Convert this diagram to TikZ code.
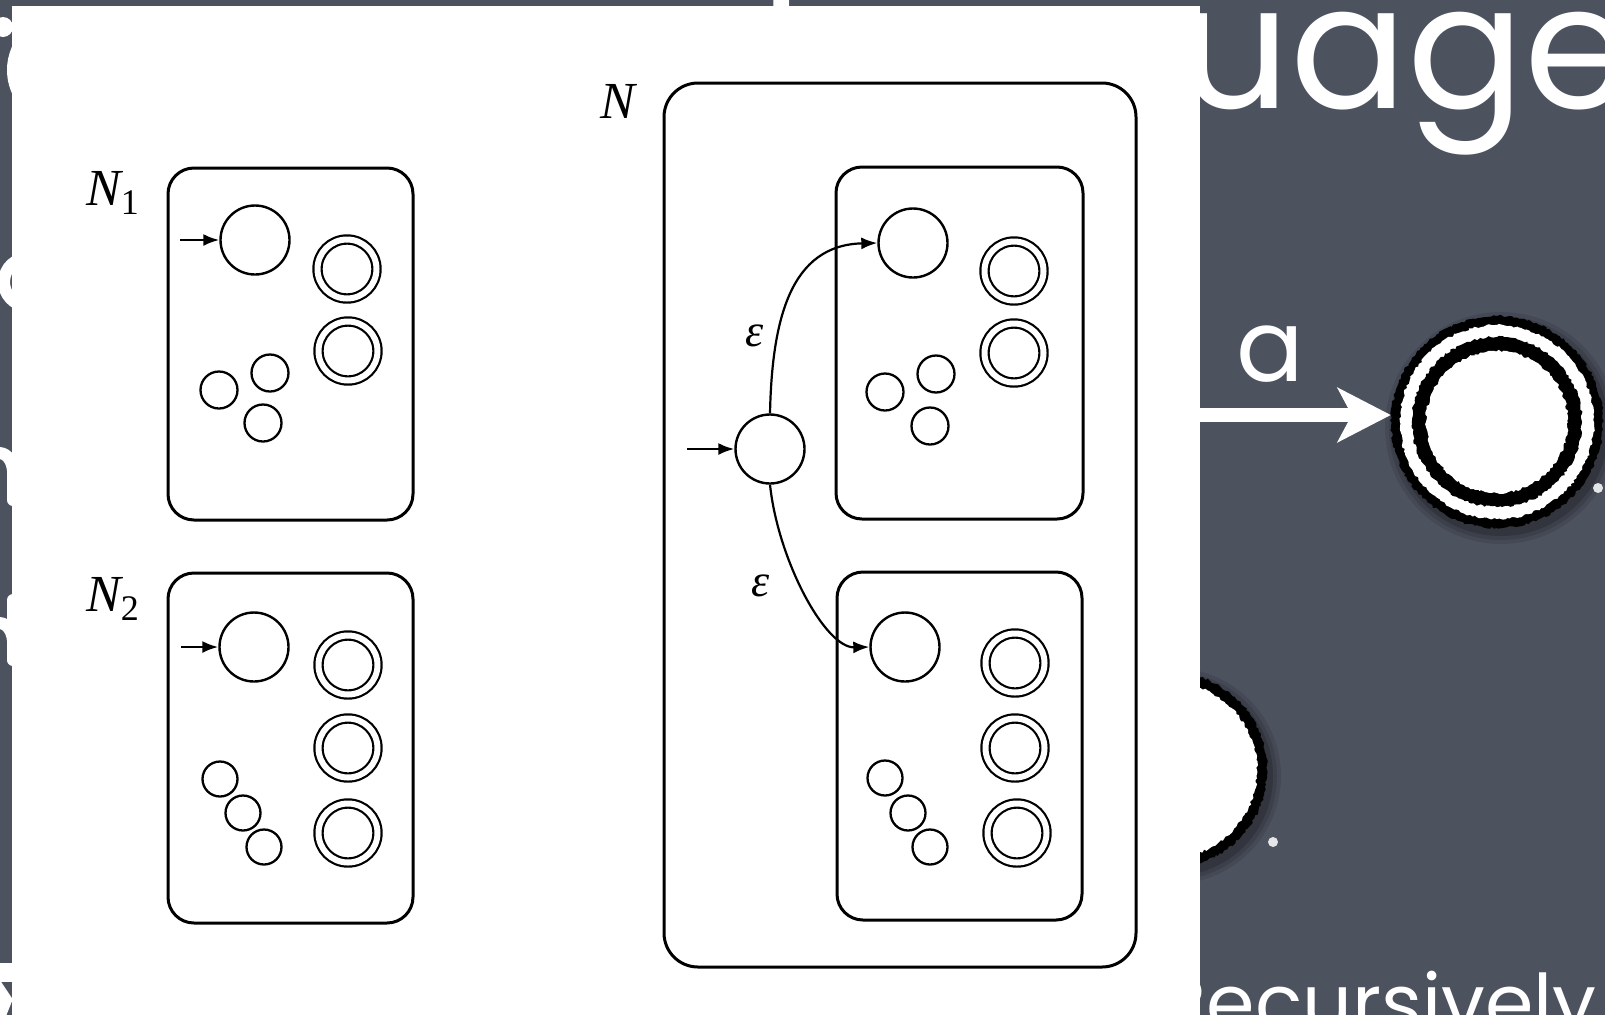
\documentclass[tikz,border=0pt]{standalone}
\usepackage{fontspec}
\setmainfont{Liberation Serif}
\newfontfamily\chalkfont{Poppins}
\usetikzlibrary{arrows.meta,decorations.pathmorphing}
\definecolor{board}{RGB}{77,82,95}
\newcommand{\nsub}[1]{\raisebox{-9pt}{\fontsize{36}{38}\selectfont\upshape #1}}
\tikzset{
  nfabox/.style={draw, line width=3pt, rounded corners=26pt},
  bigbox/.style={draw, line width=3pt, rounded corners=34pt},
  state/.style={circle, draw, line width=2.4pt, minimum size=69pt, inner sep=0pt},
  minor/.style={circle, draw, line width=2.3pt, minimum size=37pt, inner sep=0pt},
  minorb/.style={circle, draw, line width=2.3pt, minimum size=35pt, inner sep=0pt},
  accept/.style={circle, draw, line width=2.2pt, double, double distance=6pt, minimum size=59pt, inner sep=0pt},
  entry/.style={line width=2.4pt, -{Latex[length=16pt,width=12pt]}},
  epsedge/.style={line width=2.2pt, -{Latex[length=16pt,width=12pt]}},
  lbl/.style={font=\fontsize{52}{56}\selectfont\itshape, inner sep=0pt, anchor=base west},
  epslbl/.style={font=\fontsize{46}{50}\selectfont\itshape, inner sep=0pt},
  rough/.style={decorate, decoration={random steps, segment length=2.5pt, amplitude=1.2pt}},
  chalkmark/.style={white, line cap=round},
}
\begin{document}
\begin{tikzpicture}[x=1pt, y=-1pt]
\useasboundingbox (0,0) rectangle (1605,1015);
% chalkboard
\fill[board] (0,0) rectangle (1605,1015);

% slide title and bottom line
\node[text=white, inner sep=0pt, anchor=base west,
      font=\chalkfont\fontsize{173}{180}\selectfont] (title) at (760,108) {Languages};
\node[text=white, inner sep=0pt, anchor=base east,
      font=\chalkfont\fontsize{78}{90}\selectfont] (recur) at (1597,1030) {Recursively};

% accepting chalk state
\node[circle, minimum size=212pt, inner sep=0pt] (fin) at (1497,422) {};
\foreach \r/\o in {116/0.10,112/0.12,108/0.16}
  \fill[black, opacity=\o] (1501,428) circle (\r);
\fill[black, rough] (fin.center) circle (106);
\fill[white, rough] (fin.center) circle (97);
\fill[black, rough] (fin.center) circle (85);
\fill[white, rough] (fin.center) circle (71);

% chalk transition
\coordinate (arrfrom) at (1150,415);
\draw[white, line width=14pt, -{Stealth[length=53pt, width=54pt, inset=14pt]}]
  (arrfrom) -- (arrfrom -| fin.west);
\node[text=white, inner sep=0pt, anchor=base west,
      font=\chalkfont\fontsize{100}{110}\selectfont] (alab) at (1236,381) {a};

% second chalk state, mostly hidden
\node[circle, minimum size=196pt, inner sep=0pt] (mid) at (1169,770) {};
\foreach \r/\o in {108/0.10,104/0.12,100/0.16}
  \fill[black, opacity=\o] (1173,776) circle (\r);
\fill[black, rough] (mid.center) circle (98);
\fill[white, rough] (mid.center) circle (88);

% small chalk dots
\fill[white!85!board] (1598,488) circle (5);
\fill[white!85!board] (1273,842) circle (5);

% fragments of bullet text on the left
\fill[white] (3,27) circle (10);
\draw[chalkmark, line width=18pt] (64,70) ++(125:48) arc[start angle=125, end angle=235, radius=48];
\draw[chalkmark, line width=12pt] (28,282) ++(70:24) arc[start angle=70, end angle=290, radius=24];
\draw[chalkmark, line width=12pt] (-20,480) .. controls (-14,446) and (10,446) .. (13,470) -- (13,500);
\draw[chalkmark, line width=12pt] (13,600) -- (13,660);
\draw[chalkmark, line width=12pt] (-20,650) .. controls (-14,616) and (10,616) .. (13,640);
\fill[white] (0,963) rectangle (14,982);
\draw[chalkmark, line width=12pt] (-6,982) -- (6,1000) -- (-2,1020);

% pasted figure
\fill[white] (12,6) rectangle (1200,1020);

% ---- N1 ----
\node[lbl] (lN1) at (86,205) {N\nsub{1}};
\draw[nfabox] (168,168) rectangle (413,520);
\node[state] (a0) at (255,240) {};
\coordinate (a0in) at (180,240);
\draw[entry] (a0in) -- (a0);
\node[accept] (a1) at (347,269) {};
\node[accept] (a2) at (348,351) {};
\node[minor] (a3) at (219,390) {};
\node[minor] (a4) at (270,373) {};
\node[minor] (a5) at (263,423) {};

% ---- N2 ----
\node[lbl] (lN2) at (86,611) {N\nsub{2}};
\draw[nfabox] (168,573) rectangle (413,923);
\node[state] (b0) at (254,647) {};
\coordinate (b0in) at (181,647);
\draw[entry] (b0in) -- (b0);
\node[accept] (b1) at (348,665) {};
\node[accept] (b2) at (348,748) {};
\node[accept] (b3) at (348,833) {};
\node[minorb] (b4) at (220,779) {};
\node[minorb] (b5) at (243,813) {};
\node[minorb] (b6) at (264,847) {};

% ---- N ----
\node[lbl] (lN) at (600,118) {N};
\draw[bigbox] (664,83) rectangle (1136,967);
\node[state] (q0) at (770,449) {};
\coordinate (q0in) at (687,449);
\draw[entry] (q0in) -- (q0);

% copy of N1
\draw[nfabox] (836,167) rectangle (1083,519);
\node[state] (c0) at (913,243) {};
\node[accept] (c1) at (1014,271) {};
\node[accept] (c2) at (1014,353) {};
\node[minor] (c3) at (885,392) {};
\node[minor] (c4) at (936,374) {};
\node[minor] (c5) at (930,426) {};

% copy of N2
\draw[nfabox] (837,572) rectangle (1082,920);
\node[state] (d0) at (905,647) {};
\node[accept] (d1) at (1015,663) {};
\node[accept] (d2) at (1015,748) {};
\node[accept] (d3) at (1017,833) {};
\node[minorb] (d4) at (885,778) {};
\node[minorb] (d5) at (908,813) {};
\node[minorb] (d6) at (930,847) {};

% epsilon moves
\draw[epsedge] (q0.north) .. controls (772,320) and (790,245) .. (c0.west);
\draw[epsedge] (q0.south) .. controls (778,560) and (825,648) .. (d0.west);
\node[epslbl] (e1) at (755,336) {ε};
\node[epslbl] (e2) at (761,586) {ε};
\end{tikzpicture}
\end{document}
